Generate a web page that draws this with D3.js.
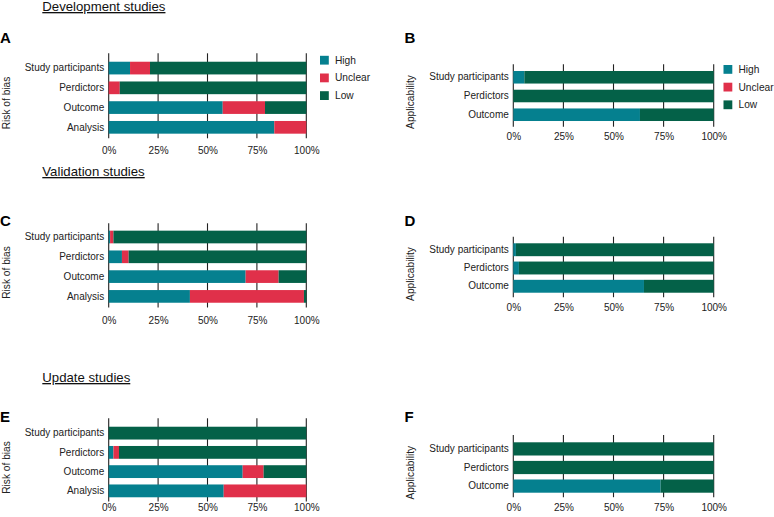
<!DOCTYPE html>
<html><head><meta charset="utf-8">
<script src="https://cdn.jsdelivr.net/npm/d3@7"></script>
<style>
html,body{margin:0;padding:0;background:#fff;}
svg{display:block;font-family:"Liberation Sans",Arial,Helvetica,sans-serif;}
</style></head>
<body>
<svg id="chart" width="774" height="517"></svg>
<script>
// ---------- DATA ----------
const levels = ["High", "Unclear", "Low"];
const biasDomains = ["Study participants", "Perdictors", "Outcome", "Analysis"];
const appDomains = ["Study participants", "Perdictors", "Outcome"];
const tickValues = [0, 25, 50, 75, 100];
const tickLabels = ["0%", "25%", "50%", "75%", "100%"];
const sectionTitles = ["Development studies", "Validation studies", "Update studies"];
const panelLetters = ["A", "B", "C", "D", "E", "F"];
const yTitles = ["Risk of bias", "Applicability"];

// Development – risk of bias (A)
const devBiasHigh    = [10.8, 0.0, 57.7, 83.8];
const devBiasUnclear = [10.1, 5.6, 21.4, 16.2];
const devBiasLow     = [79.1, 94.4, 20.9, 0.0];
// Development – applicability (B)
const devAppHigh    = [5.5, 0.0, 63.2];
const devAppUnclear = [0.0, 0.0, 0.0];
const devAppLow     = [94.5, 100.0, 36.8];
// Validation – risk of bias (C)
const valBiasHigh    = [0.7, 6.7, 69.3, 41.1];
const valBiasUnclear = [1.7, 3.4, 16.7, 57.7];
const valBiasLow     = [97.6, 89.9, 14.0, 1.2];
// Validation – applicability (D)
const valAppHigh    = [1.3, 2.8, 65.2];
const valAppUnclear = [0.0, 0.0, 0.0];
const valAppLow     = [98.7, 97.2, 34.8];
// Update – risk of bias (E)
const updBiasHigh    = [0.0, 2.4, 67.8, 58.2];
const updBiasUnclear = [0.0, 2.8, 10.6, 41.8];
const updBiasLow     = [100.0, 94.8, 21.6, 0.0];
// Update – applicability (F)
const updAppHigh    = [0.0, 0.0, 73.5];
const updAppUnclear = [0.0, 0.0, 0.0];
const updAppLow     = [100.0, 100.0, 26.5];

// ---------- STYLE / LAYOUT ----------
const colors = {High: "#05808f", Unclear: "#e0304a", Low: "#046148"};
const color = d3.scaleOrdinal().domain(levels).range(levels.map(l => colors[l]));
const svg = d3.select("#chart");

function rows(domains, h, u, l) {
  return domains.map((d, i) => ({domain: d, High: h[i], Unclear: u[i], Low: l[i]}));
}

const panels = [
  {letter: 0, yTitle: 0, domains: biasDomains, data: rows(biasDomains, devBiasHigh, devBiasUnclear, devBiasLow),
   x: [108.7, 306.3], band: [58.2, 137.2], pad: 0.357, grid: [53.3, 138.3], tickY: 150,
   letterPos: [0, 43], yTitlePos: [9.5, 103], legend: [320, 55.8]},
  {letter: 1, yTitle: 1, domains: appDomains, data: rows(appDomains, devAppHigh, devAppUnclear, devAppLow),
   x: [513.3, 713.7], band: [67.9, 124.1], pad: 0.33, grid: [64.3, 126.7], tickY: 136,
   letterPos: [404.5, 43], yTitlePos: [413.5, 102], legend: [723.5, 65]},
  {letter: 2, yTitle: 0, domains: biasDomains, data: rows(biasDomains, valBiasHigh, valBiasUnclear, valBiasLow),
   x: [108.7, 306.3], band: [227.1, 306.3], pad: 0.36, grid: [223.3, 307.5], tickY: 320,
   letterPos: [0, 225.5], yTitlePos: [9.5, 272.5]},
  {letter: 3, yTitle: 1, domains: appDomains, data: rows(appDomains, valAppHigh, valAppUnclear, valAppLow),
   x: [513.3, 713.7], band: [240.6, 295.4], pad: 0.294, grid: [236.7, 297.2], tickY: 307.7,
   letterPos: [404.5, 225.5], yTitlePos: [413.5, 274]},
  {letter: 4, yTitle: 0, domains: biasDomains, data: rows(biasDomains, updBiasHigh, updBiasUnclear, updBiasLow),
   x: [108.7, 306.3], band: [423.5, 500.5], pad: 0.335, grid: [418.3, 501.5], tickY: 507.5,
   letterPos: [0, 422], yTitlePos: [9.5, 467.5]},
  {letter: 5, yTitle: 1, domains: appDomains, data: rows(appDomains, updAppHigh, updAppUnclear, updAppLow),
   x: [513.3, 713.7], band: [439.6, 495.4], pad: 0.29, grid: [435, 497.2], tickY: 507,
   letterPos: [404.5, 422], yTitlePos: [413.5, 472.7]}
];

const titles = [
  {text: 0, x: 42.3, y: 11},
  {text: 1, x: 42.3, y: 176},
  {text: 2, x: 42.3, y: 382}
];

titles.forEach(t => {
  svg.append("text")
    .attr("x", t.x).attr("y", t.y)
    .attr("font-size", 13.2).attr("fill", "#111")
    .style("text-decoration", "underline")
    .text(sectionTitles[t.text]);
});

const stack = d3.stack().keys(levels);

panels.forEach(p => {
  const g = svg.append("g");
  const x = d3.scaleLinear().domain([0, 100]).range(p.x);
  const y = d3.scaleBand().domain(p.domains).range(p.band)
    .paddingInner(p.pad).paddingOuter(p.pad / 2);

  // vertical grid lines
  g.selectAll("line.grid").data(tickValues).join("line")
    .attr("class", "grid")
    .attr("x1", d => x(d)).attr("x2", d => x(d))
    .attr("y1", p.grid[0]).attr("y2", p.grid[1])
    .attr("stroke", "#222").attr("stroke-width", 1.1);

  // tick labels (via axis)
  const axis = d3.axisBottom(x).tickValues(tickValues)
    .tickFormat((d, i) => tickLabels[i]).tickSize(0).tickPadding(0);
  const ax = g.append("g").attr("transform", `translate(0,${p.tickY})`).call(axis);
  ax.select(".domain").remove();
  ax.selectAll("text").attr("dy", "0.35em").attr("y", 0)
    .attr("font-size", 10).attr("fill", "#222")
    .attr("font-family", "Liberation Sans, Arial, sans-serif");

  // stacked bars
  const series = stack(p.data);
  g.selectAll("g.series").data(series).join("g")
    .attr("class", "series")
    .attr("fill", d => color(d.key))
    .selectAll("rect").data(d => d).join("rect")
    .attr("x", d => x(d[0]))
    .attr("width", d => Math.max(0, x(d[1]) - x(d[0])))
    .attr("y", d => y(d.data.domain))
    .attr("height", y.bandwidth());

  // category labels
  const yAxis = d3.axisLeft(y).tickSize(0).tickPadding(0);
  const ya = g.append("g").attr("transform", `translate(${p.x[0] - 4.5},0)`).call(yAxis);
  ya.select(".domain").remove();
  ya.selectAll("text").attr("font-size", 10).attr("fill", "#222")
    .attr("font-family", "Liberation Sans, Arial, sans-serif");

  // panel letter
  svg.append("text").attr("x", p.letterPos[0]).attr("y", p.letterPos[1])
    .attr("font-size", 15).attr("font-weight", "bold").attr("fill", "#000")
    .text(panelLetters[p.letter]);

  // y title
  svg.append("text")
    .attr("transform", `translate(${p.yTitlePos[0]},${p.yTitlePos[1]}) rotate(-90)`)
    .attr("text-anchor", "middle").attr("font-size", 10.2).attr("fill", "#222")
    .text(yTitles[p.yTitle]);

  // legend
  if (p.legend) {
    const lg = svg.append("g").attr("transform", `translate(${p.legend[0]},${p.legend[1]})`);
    const item = lg.selectAll("g").data(levels).join("g")
      .attr("transform", (d, i) => `translate(0,${i * 17.7})`);
    item.append("rect").attr("width", 8.8).attr("height", 8.8).attr("fill", d => color(d));
    item.append("text").attr("x", 15).attr("y", 4.4).attr("dy", "0.35em")
      .attr("font-size", 10.2).attr("fill", "#222").text(d => d);
  }
});
</script>
</body></html>
